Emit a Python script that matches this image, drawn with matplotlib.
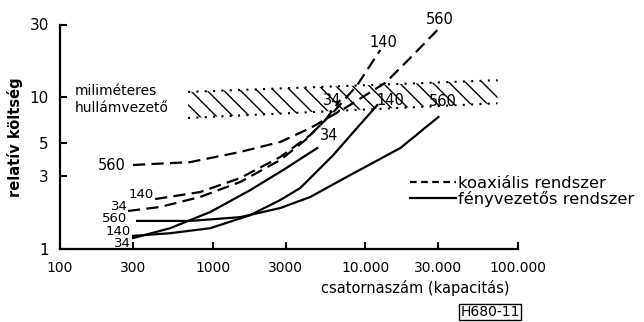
import matplotlib.pyplot as plt
from matplotlib.lines import Line2D

# koaxialis rendszer (dashed)
coax560_x = [301, 712, 1514, 2772, 4360, 7390, 13520, 19720, 29650]
coax560_y = [3.57, 3.73, 4.35, 5.06, 6.25, 8.47, 12.4, 18.1, 27.6]
coax140_x = [420, 828, 1514, 2772, 4360, 6360, 8865, 12530]
coax140_y = [2.13, 2.37, 2.93, 4.03, 5.62, 8.21, 12.0, 20.4]
coax34_x = [279, 453, 828, 1514, 2772, 4045, 5470, 6855]
coax34_y = [1.78, 1.89, 2.20, 2.76, 3.85, 5.21, 7.06, 9.55]

# fenyvezetos rendszer (solid)
fiber560_x = [320, 712, 1514, 2772, 4360, 7980, 16980, 30100]
fiber560_y = [1.53, 1.53, 1.62, 1.86, 2.20, 3.07, 4.62, 7.39]
fiber140_x = [301, 526, 963, 1762, 2772, 3750, 6166, 8590, 11990]
fiber140_y = [1.22, 1.27, 1.37, 1.67, 2.10, 2.52, 4.15, 6.07, 8.86]
fiber34_x = [301, 526, 963, 1762, 2899, 4846]
fiber34_y = [1.18, 1.37, 1.75, 2.44, 3.31, 4.62]

# millimeter waveguide band
band_x = [690, 73400]
band_top = [10.8, 12.9]
band_bottom = [7.28, 9.1]

xticks = [100, 300, 1000, 3000, 10000, 30000, 100000]
xticklabels = ["100", "300", "1000", "3000", "10.000", "30.000", "100.000"]
yticks = [1, 3, 5, 10, 30]
yticklabels = ["1", "3", "5", "10", "30"]

fig = plt.figure(figsize=(6.44, 3.22), dpi=100)
ax = fig.add_axes([60/644, 73/322, 458/644, 224.5/322])
ax.set_xscale("log")
ax.set_yscale("log")
ax.set_xlim(100, 100000)
ax.set_ylim(1, 30)

dash = (0, (5.5, 2.8))
lw = 1.6
ax.plot(coax560_x, coax560_y, color="black", lw=lw, linestyle=dash)
ax.plot(coax140_x, coax140_y, color="black", lw=lw, linestyle=dash)
ax.plot(coax34_x, coax34_y, color="black", lw=lw, linestyle=dash)
ax.plot(fiber560_x, fiber560_y, color="black", lw=lw)
ax.plot(fiber140_x, fiber140_y, color="black", lw=lw)
ax.plot(fiber34_x, fiber34_y, color="black", lw=lw)

# hatched band
ax.fill_between(band_x, band_bottom, band_top, facecolor="none",
                edgecolor="black", hatch="\\\\", linewidth=0)
ax.plot(band_x, band_top, color="black", lw=1.5, linestyle=(0, (1, 3)))
ax.plot(band_x, band_bottom, color="black", lw=1.5, linestyle=(0, (1, 3)))

# curve labels
lab = dict(fontsize=10.5, ha="center", va="center")
small = dict(fontsize=9.5, ha="center", va="center")
ax.text(219, 3.57, "560", **lab)
ax.text(340, 2.30, "140", **small)
ax.text(244, 1.89, "34", **small)
ax.text(229, 1.58, "560", **small)
ax.text(240, 1.31, "140", **small)
ax.text(255, 1.09, "34", **small)
ax.text(30600, 32.6, "560", clip_on=False, **lab)
ax.text(13120, 22.7, "140", **lab)
ax.text(6080, 9.55, "34", **lab)
ax.text(14600, 9.55, "140", **lab)
ax.text(32000, 9.41, "560", **lab)
ax.text(5810, 5.62, "34", **lab)

ax.text(125, 9.6, "miliméteres\nhullámvezető", fontsize=10, ha="left",
        va="center", linespacing=1.25)

# axes styling
for s in ["top", "right"]:
    ax.spines[s].set_visible(False)
for s in ["left", "bottom"]:
    ax.spines[s].set_linewidth(1.6)
ax.set_xticks(xticks)
ax.set_xticklabels(xticklabels, fontsize=10)
ax.set_yticks(yticks)
ax.set_yticklabels(yticklabels, fontsize=11)
ax.minorticks_off()
ax.tick_params(direction="in", length=5, width=1.5)
ax.tick_params(axis="x", pad=9)
ax.tick_params(axis="y", pad=8)
ax.set_ylabel("relatív költség", fontsize=10.5, fontweight="bold", labelpad=5)
ax.text(0.775, -0.175, "csatornaszám (kapacitás)", transform=ax.transAxes,
        fontsize=10.5, ha="center", va="center")
fig.text(490/644, 1 - 312/322, "H680-11", fontsize=10, ha="center", va="center",
         bbox=dict(boxstyle="square,pad=0.1", facecolor="none", edgecolor="black"))

handles = [Line2D([], [], color="black", lw=lw, linestyle=(0, (3, 2))),
           Line2D([], [], color="black", lw=lw)]
fig.legend(handles, ["koaxiális rendszer", "fényvezetős rendszer"],
           loc="upper left", bbox_to_anchor=(410/644, 1 - 176/322),
           frameon=False, fontsize=11.8, handlelength=2.8, handletextpad=0.1,
           labelspacing=0.0, borderpad=0, borderaxespad=0)

fig.savefig("out.png", dpi=100)
